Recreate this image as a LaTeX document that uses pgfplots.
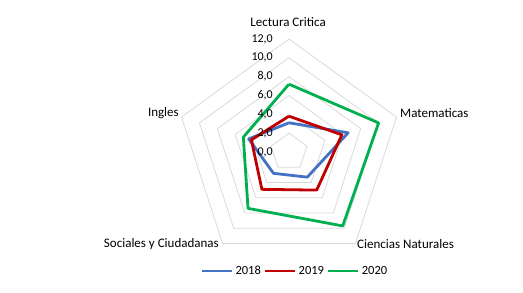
\documentclass[border=0pt]{standalone}
\usepackage{pgfplots}
\pgfplotsset{compat=1.18}
\usepackage{fontspec}
\setmainfont{Carlito}
\definecolor{c18}{HTML}{4472C4}
\definecolor{c19}{HTML}{C00000}
\definecolor{c20}{HTML}{00B050}
\definecolor{gridc}{HTML}{D9D9D9}
\begin{document}
\fontsize{12pt}{14pt}\selectfont
\begin{tikzpicture}
\begin{axis}[
  scale only axis, width=523pt, height=293pt,
  xmin=-30.68, xmax=24.84, ymin=-14.97, ymax=16.14,
  axis line style={draw=none}, ticks=none,
  clip=false,
  legend columns=3,
  legend style={draw=none, fill=none, at={(rel axis cs:0.564,0.075)}, anchor=center,
    font=\fontsize{12.5pt}{14pt}\selectfont,
    /tikz/every even column/.append style={column sep=1pt},
    /tikz/every odd column/.append style={column sep=0pt}},
  legend cell align=left,
  legend image code/.code={\draw[#1] (0pt,0pt) -- (30pt,0pt);},
]
\pgfplotsinvokeforeach{2,4,6,8,10,12}{
  \addplot[gridc, line width=0.8pt, data cs=polar, forget plot] coordinates {(90,#1) (18,#1) (-54,#1) (-126,#1) (162,#1) (90,#1)};
}
% 2018
\addplot[c18, line width=2.8pt, line join=round, data cs=polar] coordinates {(90,3.1) (18,6.6) (-54,3.3) (-126,2.8) (162,4.5) (90,3.1)};
\addlegendentry{2018\hspace{20pt}}
% 2019
\addplot[c19, line width=2.8pt, line join=round, data cs=polar] coordinates {(90,3.8) (18,5.9) (-54,5.0) (-126,4.9) (162,4.2) (90,3.8)};
\addlegendentry{2019\hspace{20pt}}
% 2020
\addplot[c20, line width=2.8pt, line join=round, data cs=polar] coordinates {(90,7.2) (18,10.0) (-54,9.7) (-126,7.4) (162,5.1) (90,7.2)};
\addlegendentry{2020}
% tick labels
\node[anchor=east, inner sep=0pt] at (axis cs:-1.7,0) {0,0};
\node[anchor=east, inner sep=0pt] at (axis cs:-1.7,2) {2,0};
\node[anchor=east, inner sep=0pt] at (axis cs:-1.7,4) {4,0};
\node[anchor=east, inner sep=0pt] at (axis cs:-1.7,6) {6,0};
\node[anchor=east, inner sep=0pt] at (axis cs:-1.7,8) {8,0};
\node[anchor=east, inner sep=0pt] at (axis cs:-1.7,10) {10,0};
\node[anchor=east, inner sep=0pt] at (axis cs:-1.7,12) {12,0};
% category labels
\node[anchor=center, font=\fontsize{13pt}{15pt}\selectfont] at (axis cs:-0.1,13.8) {Lectura Critica};
\node[anchor=west, inner sep=0pt, font=\fontsize{13pt}{15pt}\selectfont] at (axis cs:11.78,4.14) {Matematicas};
\node[anchor=west, inner sep=0pt, font=\fontsize{13pt}{15pt}\selectfont] at (axis cs:7.22,-9.77) {Ciencias Naturales};
\node[anchor=east, inner sep=0pt, font=\fontsize{13pt}{15pt}\selectfont] at (axis cs:-7.43,-9.77) {Sociales y Ciudadanas};
\node[anchor=east, inner sep=0pt, font=\fontsize{13pt}{15pt}\selectfont] at (axis cs:-11.68,4.14) {Ingles};
\end{axis}
\end{tikzpicture}
\end{document}
